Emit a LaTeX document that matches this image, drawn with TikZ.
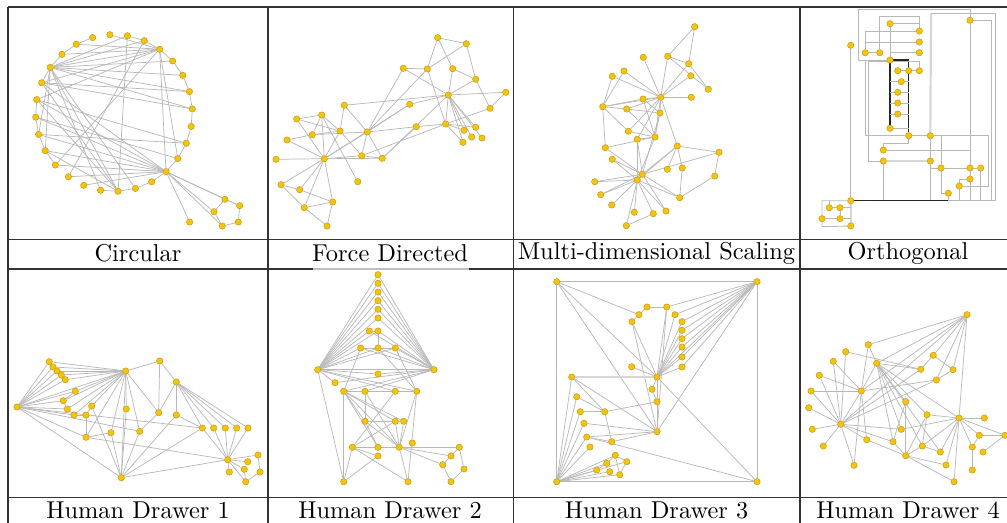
\documentclass[tikz,border=0pt]{standalone}
\usepackage{tikz}
\usetikzlibrary{calc}
\definecolor{dotfill}{RGB}{247,197,0}
\definecolor{dotrim}{RGB}{196,152,20}
\pgfdeclarelayer{edges}
\pgfsetlayers{edges,main}
\tikzset{%
  vtx/.style={circle, fill=dotfill, draw=dotrim, line width=0.2pt, inner sep=0pt, minimum size=2.6pt}, % the yellow dots
  lnk/.style={draw=black!28, line width=0.3pt}, % straight edges
  orth/.style={draw=black!28, line width=0.35pt}, % routed edges of the orthogonal drawing
  orthdark/.style={draw=black!85, line width=0.45pt},
  orthwide/.style={draw=black!16, line width=0.9pt},
  tablerule/.style={draw=black!80, line width=0.6pt},
  captext/.style={inner sep=0pt}
}
\begin{document}
\begin{tikzpicture}[x=0.41pt, y=-0.41pt]
\useasboundingbox (0,0) rectangle (1007,523);

% table
\draw[tablerule] (8,7) -- (1007,7);
\draw[tablerule] (8,239.5) -- (1007,239.5);
\draw[tablerule] (8,269) -- (313,269);
\draw[draw=black!25, line width=0.5pt] (313,269) -- (469,269);
\draw[tablerule] (469,269) -- (1007,269);
\draw[tablerule] (8,497.5) -- (1007,497.5);
\foreach \x in {8,268,513.5,800}
  \draw[tablerule] (\x,7) -- (\x,523);

\node[captext] (cap1) at (138,253.5) {Circular};
\node[captext] (cap2) at (390,253.5) {Force Directed};
\node[captext] (cap3) at (656.5,253.5) {Multi-dimensional Scaling};
\node[captext] (cap4) at (908,253.5) {Orthogonal};
\node[captext] (cap5) at (138,510) {Human Drawer 1};
\node[captext] (cap6) at (390,510) {Human Drawer 2};
\node[captext] (cap7) at (656.5,510) {Human Drawer 3};
\node[captext] (cap8) at (908,510) {Human Drawer 4};

% circular
\foreach \i in {0,...,27}
  \node[vtx] (c\i) at ($(114,113)+({-3+\i*360/28}:78.4)$) {};
\foreach \n/\x/\y in {k1/225/199.3, k2/239.7/205.7, k3/214/211.7, k4/238.3/222, k5/222.3/226, k6/189.7/222}
  \node[vtx] (\n) at (\x,\y) {};
\begin{pgfonlayer}{edges}
\foreach \a/\b in {c24/c25, c25/c26, c26/c27, c27/c0, c0/c1, c1/c2, c2/c3, c3/c4, c4/c5, c5/c6, c6/c7, c7/c8,
  c15/c14, c14/c13, c13/c12, c12/c11, c16/c17, c17/c18, c18/c19, c19/c20, c22/c23, c23/c24,
  c17/c24, c17/c23, c17/c22, c17/c25, c17/c26, c17/c27, c17/c0, c17/c7, c17/c8, c17/c6, c17/c12, c17/c13,
  c24/c16, c24/c15, c24/c18, c24/c19, c24/c21, c24/c3, c24/c4, c24/c11,
  c4/c13, c4/c12, c4/c14, c4/c11, c4/c10, c4/c9, c4/c15, c4/c16,
  c7/c16, c7/c15, c7/c22, c7/c12, c16/c0, c16/c27, c23/c10, c14/c3, c13/c2, c15/c2,
  c4/k1, c4/k2, c4/k3, c4/k5, c4/k6, k1/k2, k1/k3, k2/k4, k4/k5, k3/k5}
  \draw[lnk] (\a) -- (\b);
\end{pgfonlayer}

% force directed
\foreach \n/\x/\y in {f1/437.7/37.7, f2/466.3/43.7, f3/403.3/68.3, f4/427.3/69, f5/452.7/68.7, f6/475.7/79.3,
  f7/505.7/92.3, f8/448.3/95, f9/490/108.3, f10/409.7/104.3, f11/344.3/105.3, f12/321.7/115, f13/296.7/119,
  f14/312.3/134.7, f15/340/131, f16/367.3/132, f17/416.3/126.7, f18/445.7/124, f19/464/130.3, f20/475.7/127.3,
  f21/471.7/137, f22/482/138, f23/463/142.3, f24/287/140, f25/324.3/158.7, f26/361.7/155.7, f27/382.3/158.3,
  f28/276/159.3, f29/357.7/181.7, f30/281/184.7, f31/299.7/189.7, f32/332.7/202, f33/304.3/207.7, f34/327/226}
  \node[vtx] (\n) at (\x,\y) {};
\begin{pgfonlayer}{edges}
\foreach \a/\b in {f1/f2, f1/f4, f1/f5, f2/f4, f2/f6, f3/f4, f3/f8, f3/f16, f4/f18, f5/f8, f5/f6, f6/f8, f6/f9,
  f7/f8, f7/f9, f8/f10, f8/f11, f4/f16, f8/f18, f8/f19, f8/f20, f8/f21, f8/f22, f8/f23, f8/f27, f17/f27,
  f17/f16, f17/f18, f18/f9, f18/f19, f18/f23, f18/f20, f18/f26, f12/f13, f12/f14, f12/f15, f12/f25, f13/f15,
  f13/f25, f14/f15, f14/f16, f15/f25, f15/f26, f11/f15, f11/f16, f16/f25, f16/f26, f16/f27, f24/f25, f24/f14,
  f28/f25, f25/f26, f25/f27, f25/f30, f25/f31, f25/f33, f25/f32, f25/f10, f30/f31, f30/f33, f31/f32, f33/f32,
  f33/f34, f32/f34, f26/f27, f12/f29, f10/f16}
  \draw[lnk] (\a) -- (\b);
\end{pgfonlayer}

% multi-dimensional scaling
\foreach \n/\x/\y in {m1/694.7/26.7, m2/643.3/57.3, m3/667.7/56.3, m4/688.7/63.7, m5/624/71, m6/612.3/76.3,
  m7/690.7/75.7, m8/708.3/89.3, m9/660.7/97.3, m10/691.3/97.3, m11/643/99, m12/602.7/106.7, m13/626.7/109,
  m14/660/113, m15/628.3/131.3, m16/637.3/139.3, m17/655/137, m18/677.3/146, m19/605.3/147.7, m20/719/152.3,
  m21/612.3/159.3, m22/667.3/169.3, m23/682.3/168, m24/642.3/174.3, m25/637.3/180, m26/714.7/176,
  m27/594.7/181.7, m28/600.7/194.7, m29/679.7/197.7, m30/611.7/205, m31/634.3/212.3, m32/653.3/213.7,
  m33/666/211, m34/626.3/225.7}
  \node[vtx] (\n) at (\x,\y) {};
\begin{pgfonlayer}{edges}
\foreach \a/\b in {m1/m3, m1/m4, m3/m4, m3/m8, m3/m9, m4/m9, m7/m9, m4/m8, m9/m10, m9/m2, m9/m5, m9/m6,
  m9/m11, m9/m13, m9/m14, m9/m16, m9/m15, m9/m17, m9/m18, m9/m12, m5/m12, m6/m12, m12/m11, m12/m13, m12/m15,
  m12/m19, m11/m14, m11/m17, m13/m14, m13/m17, m14/m17, m15/m17, m16/m17, m16/m25, m16/m24, m17/m25,
  m17/m19, m18/m20, m18/m23, m18/m22, m18/m25, m18/m24, m20/m26, m20/m24, m26/m29, m23/m29, m24/m29,
  m25/m27, m25/m28, m25/m30, m25/m31, m25/m32, m25/m33, m25/m29, m25/m21, m25/m24, m25/m34, m34/m32,
  m24/m33, m19/m24, m21/m24, m14/m24, m24/m27, m24/m28}
  \draw[lnk] (\a) -- (\b);
\end{pgfonlayer}

% orthogonal
\foreach \n/\x/\y in {o1/890/23.7, o2/970/20.3, o3/919.3/31, o4/850.7/45.3, o5/919.3/42, o6/865.3/52.7,
  o7/879.7/52.7, o8/919.3/52.7, o9/890/60, o10/897.7/70.7, o11/908.7/70.7, o12/919.3/70.7, o13/901.3/81.7,
  o14/897.7/92.3, o15/897.7/103, o16/897.7/114, o17/890/128.3, o18/908.7/135.7, o19/930.3/135.7,
  o20/883.3/150, o21/883.3/161, o22/930.3/161, o23/941/168, o24/970/168, o25/980.7/168, o26/970/179,
  o27/959.3/186, o28/948.3/193.3, o29/850.7/200.7, o30/829.3/207.7, o31/840/207.7, o32/822/218.7,
  o33/840/218.7, o34/850.7/226}
  \node[vtx] (\n) at (\x,\y) {};
\begin{pgfonlayer}{edges}
\draw[orth] (o9) -- (858.3,60) -- (858.3,9.3) -- (970,9.3) -- (o2);
\draw[orth] (o2) -- (o24);
\draw[orth] (o24) -- (o26) -- (o26 |- o29);
\draw[orthwide] (o19) -- (931,13.3);
\draw[orth] (931,13.3) -- (995,13.3) -- (995,200.7);
\draw[orth] (o2) -| (991.7,200.7);
\draw[orth] (o7) -- (879.7,16) -- (919.3,16) -- (o3);
\draw[orth] (o1) -| (o3);
\draw[orth] (o6) |- (o3);
\draw[orth] (o6) |- (o5);
\draw[orth] (o6) -- (o7);
\draw[orth] (o9) |- (o8);
\draw[orth] (o1) -- (o9);
\draw[orth] (o4) -- (o29);
\draw[orthdark] (o9) -- (o17);
\draw[orthdark] (o9) -| (o18);
\foreach \n in {o13,o14,o15,o16,o17}
  \draw[orth] (\n -| o9) -- (\n -| o18);
\draw[orth] (o10) -- (o12);
\draw[orth] (o18) -- (908.7,143.3) -| (o20);
\draw[orth] (o18) -- (o19);
\draw[orth] (o18) -| (865.3,60);
\draw[orth] (o19) -| (988.3,186) -- (o27);
\draw[orth] (o21) -| (868.3,61) -| (o12);
\draw[orth] (o20) -| (o24);
\draw[orthwide] (o21) -- (o22);
\draw[orth] (o21) -- (o21 |- o29);
\draw[orth] (o22) -- (o19);
\draw[orth] (o22) -- (o22 |- o29);
\draw[orth] (o22) |- (o23);
\draw[orth] (o23) |- (o19);
\draw[orth] (o23) -- (o24) -- (o25);
\draw[orth] (o25) -- (o25 |- o29);
\draw[orth] (o26) -| (o27);
\draw[orth] (o27) -- (o27 |- o29);
\draw[orth] (o28) -| (o23);
\draw[orth] (o28) -- (o28 |- o29);
\draw[orthdark] (o29) -- (o28 |- o29);
\draw[orth] (o28 |- o29) -- (995,200.7);
\draw[orth] (o29) -| (822,226.7) -- (o34);
\draw[orthwide] (o29) -- (o34);
\draw[orth] (o30) -- (o31) -- (o31 -| o29);
\draw[orth] (o30) -- (o30 |- o29);
\draw[orth] (o32) -- (o33) -- (o33 -| o29);
\draw[orth] (o31) -- (o33);
\end{pgfonlayer}

% human drawer 1
\foreach \n/\x/\y in {h1/49.3/361.7, h2/53/367, h3/57/371, h4/61.3/375, h5/65.3/379.7, h6/125.7/371,
  h7/159.7/361, h8/176.3/382, h9/75.3/391.3, h10/63.3/400.7, h11/17/407, h12/67.3/409, h13/91.7/406,
  h14/126.3/409, h15/74/415, h16/86/415, h17/158.7/412.7, h18/176.3/415, h19/111/432.7, h20/139.7/431.3,
  h21/86/437.3, h22/202.3/428, h23/213.7/428, h24/225.3/428, h25/236.7/428, h26/248/428, h27/227.7/459.7,
  h28/258/455, h29/247.7/461.7, h30/229.3/472, h31/244.3/469.3, h32/260/472, h33/245.7/481.7, h34/121.3/477.7}
  \node[vtx] (\n) at (\x,\y) {};
\begin{pgfonlayer}{edges}
\foreach \a/\b in {h11/h1, h11/h2, h11/h3, h11/h4, h11/h5, h11/h6, h11/h9, h11/h10, h11/h12, h11/h21,
  h11/h34, h11/h20, h11/h22, h11/h15, h6/h1, h6/h2, h6/h3, h6/h4, h6/h5, h6/h7, h6/h9, h6/h10, h6/h12,
  h6/h14, h6/h15, h6/h19, h6/h20, h6/h21, h6/h34, h6/h17, h6/h13, h7/h8, h7/h17, h8/h17, h8/h18, h8/h22,
  h8/h23, h8/h24, h8/h25, h8/h26, h13/h34, h13/h16, h9/h10, h10/h12, h12/h15, h15/h16, h16/h21, h21/h27,
  h21/h19, h19/h34, h14/h34, h20/h34, h17/h20, h18/h34, h18/h22, h22/h27, h23/h27, h24/h27, h25/h27,
  h26/h27, h27/h28, h27/h29, h27/h30, h27/h31, h27/h33, h28/h32, h31/h33, h32/h33, h27/h34, h22/h34}
  \draw[lnk] (\a) -- (\b);
\end{pgfonlayer}

% human drawer 2
\foreach \n/\x/\y in {d1/378/274.7, d2/378/283.3, d3/378/292, d4/378/300.7, d5/378/309.3, d6/378/318,
  d7/369.3/331, d8/378/331, d9/360.7/348, d10/378/348, d11/395.3/348, d12/317.7/369.7, d13/434/369.7,
  d14/378/374, d15/335/382.7, d16/343.7/391.3, d17/365/391.3, d18/395.3/391.3, d19/416.7/391.3,
  d20/365/421.3, d21/395.3/421.3, d22/403.7/421.3, d23/412.3/443, d24/352.3/447.3, d25/378/447.3,
  d26/399.3/447.3, d27/459.3/447.3, d28/378/456, d29/451/456, d30/442.7/464.7, d31/464/469,
  d32/343.7/481.7, d33/408/481.7, d34/451/481.7}
  \node[vtx] (\n) at (\x,\y) {};
\begin{pgfonlayer}{edges}
\foreach \i in {1,...,11} {
  \draw[lnk] (d12) -- (d\i);
  \draw[lnk] (d13) -- (d\i);
}
\foreach \a/\b in {d12/d13, d12/d14, d13/d14, d12/d18, d12/d19, d13/d16, d13/d17, d12/d32, d12/d15,
  d16/d19, d9/d10, d10/d11, d9/d16, d10/d19, d11/d19, d8/d10, d7/d8, d16/d20, d16/d21, d16/d26, d16/d25,
  d16/d32, d17/d20, d17/d26, d18/d24, d19/d33, d19/d26, d20/d21, d21/d22, d20/d25, d20/d26, d21/d24,
  d21/d26, d22/d26, d24/d25, d24/d26, d24/d32, d24/d33, d25/d26, d26/d27, d26/d29, d26/d30, d26/d33,
  d27/d29, d27/d31, d29/d30, d30/d34, d31/d34, d28/d32, d28/d24, d13/d15, d16/d22}
  \draw[lnk] (\a) -- (\b);
\end{pgfonlayer}

% human drawer 3
\foreach \n/\x/\y in {t1/556.7/281.7, t2/757/281.7, t3/556.7/481.7, t4/757/481.7, t5/647/307, t6/666.7/307,
  t7/639/314.7, t8/675/314.7, t9/632/321.7, t10/682/321.7, t11/682/330.3, t12/682/338.7, t13/682/347,
  t14/682/357, t15/682/367, t16/631.7/366.7, t17/657/377, t18/571.7/377, t19/652/389.3, t20/657/401.7,
  t21/576.7/396.7, t22/580.3/411.7, t23/604.7/411.7, t24/584/423.3, t25/657/431.7, t26/586.7/437,
  t27/611.7/441.7, t28/590/447, t29/615.3/455.3, t30/606.7/463.3, t31/626.7/461.7, t32/596.7/470,
  t33/609.7/471.7, t34/619.7/474.7}
  \node[vtx] (\n) at (\x,\y) {};
\begin{pgfonlayer}{edges}
\foreach \a/\b in {t1/t2, t1/t3, t2/t4, t3/t4, t1/t17, t1/t25, t1/t7, t2/t6, t2/t8, t2/t10, t2/t11, t2/t12,
  t2/t13, t2/t14, t2/t15, t2/t17, t2/t25, t5/t6, t5/t7, t7/t9, t9/t17, t9/t25, t6/t17, t8/t17, t10/t17,
  t11/t17, t12/t17, t13/t17, t14/t17, t15/t17, t16/t17, t17/t19, t17/t20, t17/t4, t18/t23, t18/t25,
  t18/t3, t21/t23, t21/t3, t22/t23, t22/t3, t23/t20, t23/t27, t24/t25, t24/t3, t26/t25, t26/t27, t26/t3,
  t27/t25, t28/t3, t3/t29, t3/t30, t3/t31, t3/t32, t3/t33, t3/t34, t29/t30, t29/t31, t29/t34, t32/t30,
  t31/t34, t26/t4, t20/t19, t25/t20, t6/t25}
  \draw[lnk] (\a) -- (\b);
\draw[orthwide] (t17) -- (t18);
\end{pgfonlayer}

% human drawer 4
\foreach \n/\x/\y in {w1/967/314.7, w2/868.3/344.7, w3/845.7/351.7, w4/933.3/355.3, w5/833.3/361.3,
  w6/876.7/363.3, w7/920.7/369.3, w8/953/369.7, w9/819.3/375.3, w10/936.3/380, w11/811/391, w12/861.3/391,
  w13/905.7/401.7, w14/808.7/407.7, w15/927/414.7, w16/959/418, w17/984.3/418, w18/840.7/424.3,
  w19/812.3/429.3, w20/901.3/429.3, w21/979.3/435.3, w22/1005/435.3, w23/866.7/439.7, w24/893/441.7,
  w25/972.3/447, w26/823.3/446, w27/922.3/446, w28/983/452, w29/940.3/452, w30/905.7/455.7, w31/946/465,
  w32/854/465.3, w33/972.3/470, w34/954/481.7}
  \node[vtx] (\n) at (\x,\y) {};
\begin{pgfonlayer}{edges}
\foreach \a/\b in {w1/w2, w1/w4, w1/w8, w1/w6, w1/w12, w1/w18, w1/w16, w1/w10, w4/w8, w4/w7, w8/w10, w7/w6,
  w10/w12, w10/w18, w6/w13, w6/w15, w6/w20, w6/w27, w6/w16, w6/w24, w6/w29, w2/w6, w2/w12, w3/w7, w3/w18,
  w5/w12, w5/w18, w9/w12, w9/w18, w11/w12, w11/w18, w14/w18, w18/w19, w18/w26, w18/w32, w12/w23, w12/w18,
  w6/w12, w12/w32, w18/w23, w18/w24, w18/w20, w18/w7, w23/w30, w24/w30, w13/w30, w15/w30, w15/w27,
  w15/w16, w16/w20, w16/w17, w16/w21, w16/w22, w16/w25, w16/w27, w16/w29, w16/w31, w16/w34, w21/w22,
  w21/w25, w25/w33, w28/w22, w27/w29, w30/w31, w30/w34, w30/w27, w13/w24}
  \draw[lnk] (\a) -- (\b);
\end{pgfonlayer}

\end{tikzpicture}
\end{document}
